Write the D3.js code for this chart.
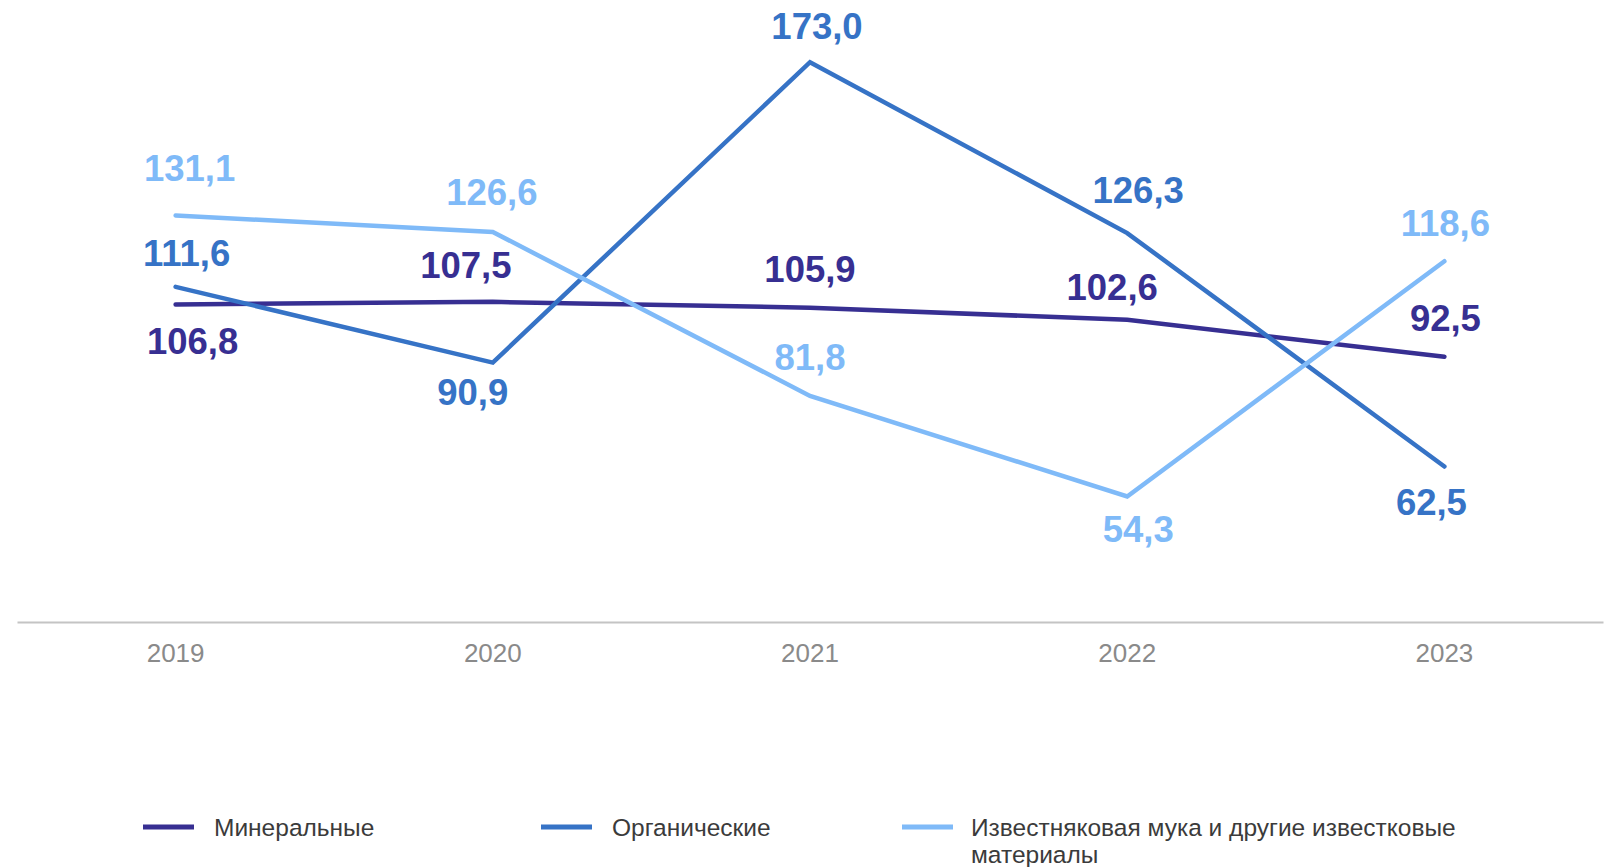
<!DOCTYPE html>
<html>
<head>
<meta charset="utf-8">
<script src="https://cdn.jsdelivr.net/npm/d3@7"></script>
<style>
  body { margin: 0; background: #fff; }
  svg { display: block; font-family: "Liberation Sans", Arial, sans-serif; }
</style>
</head>
<body>
<script>
// chart data
var years = ["2019", "2020", "2021", "2022", "2023"];
var seriesNames = ["Минеральные", "Органические", "Известняковая мука и другие известковые материалы"];
var mineral = [106.8, 107.5, 105.9, 102.6, 92.5];
var organic = [111.6, 90.9, 173.0, 126.3, 62.5];
var lime = [131.1, 126.6, 81.8, 54.3, 118.6];

var colors = ["#372F92", "#3673C6", "#7FBAF8"];

// label placement (dx, dy from the point)
var labelOffsets = [
  [[17, 37], [-27, -36], [0, -38], [-15, -32], [1, -38]],
  [[11, -33], [-20, 30], [7, -36], [11, -43], [-13, 36]],
  [[14, -47], [-1, -39], [0, -38], [11, 33], [1, -38]]
];

var svgWidth = 1607;
var svgHeight = 867;

var svg = d3.select("body").append("svg")
  .attr("width", svgWidth)
  .attr("height", svgHeight);

var xScale = d3.scaleBand().domain(years).range([17, 1603]);
var yScale = d3.scaleLinear().domain([20, 190]).range([622, 0]);

var xPos = d => xScale(d) + xScale.bandwidth() / 2;

// axis line + year labels
var bottomAxis = d3.axisBottom(xScale).tickSize(0).tickPadding(22);
var axisG = svg.append("g")
  .attr("transform", "translate(0,622)")
  .call(bottomAxis);
axisG.select(".domain").attr("stroke", "#c4c4c4").attr("stroke-width", 2);
axisG.selectAll("text")
  .attr("fill", "#8a8a8a")
  .style("font-size", "26px")
  .style("font-family", "'Liberation Sans', Arial, sans-serif");

var allSeries = [mineral, organic, lime];

var line = d3.line()
  .x((d, i) => xPos(years[i]))
  .y(d => yScale(d));

allSeries.forEach(function(vals, s) {
  svg.append("path")
    .attr("d", line(vals))
    .attr("fill", "none")
    .attr("stroke", colors[s])
    .attr("stroke-width", 4.5)
    .attr("stroke-linecap", "round")
    .attr("stroke-linejoin", "miter");
});

// value labels
allSeries.forEach(function(vals, s) {
  svg.append("g").selectAll("text")
    .data(vals)
    .join("text")
    .attr("x", (d, i) => xPos(years[i]) + labelOffsets[s][i][0])
    .attr("y", (d, i) => yScale(d) + labelOffsets[s][i][1])
    .attr("text-anchor", "middle")
    .attr("dominant-baseline", "central")
    .attr("fill", colors[s])
    .style("font-size", "36.5px")
    .style("font-weight", "bold")
    .text(d => d.toFixed(1).replace(".", ","));
});

// legend
var legendX = [143, 541, 902];
var legend = svg.append("g");
seriesNames.forEach(function(name, s) {
  var g = legend.append("g").attr("transform", `translate(${legendX[s]},827)`);
  g.append("line")
    .attr("x1", 0).attr("x2", 51)
    .attr("stroke", colors[s])
    .attr("stroke-width", 5);
  var t = g.append("text")
    .attr("x", 71)
    .attr("fill", "#3b3b3b")
    .style("font-size", "24.5px");
  if (s === 2) {
    t.append("tspan").attr("x", 69).attr("dy", "0.35em").text("Известняковая мука и другие известковые");
    t.append("tspan").attr("x", 69).attr("dy", 27).text("материалы");
  } else {
    t.attr("dy", "0.35em").text(name);
  }
});
</script>
</body>
</html>
